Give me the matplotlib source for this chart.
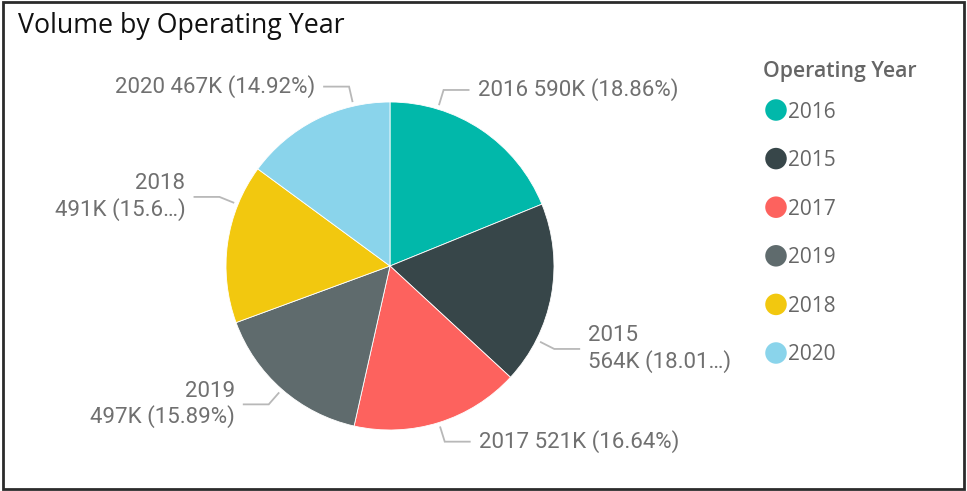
import numpy as np
import matplotlib.pyplot as plt
from matplotlib.patches import Rectangle

# data
years = ['2016', '2015', '2017', '2019', '2018', '2020']
volume_k = [590, 564, 521, 497, 491, 467]
percent = [18.86, 18.01, 16.64, 15.89, 15.68, 14.92]
colors = ['#01B8AA', '#374649', '#FD625E', '#5F6B6D', '#F2C80F', '#8AD4EB']

W, H = 967, 491
fig = plt.figure(figsize=(W / 100, H / 100), dpi=100)
ax = fig.add_axes([0, 0, 1, 1])

# pie in pixel-like coordinates
cx, cy, R = 390, H - 266, 164
wedges, _ = ax.pie(volume_k, colors=colors, startangle=90, counterclock=False,
                   center=(cx, cy), radius=R,
                   wedgeprops=dict(edgecolor='white', linewidth=0.6))
ax.set_xlim(0, W)
ax.set_ylim(0, H)
ax.set_aspect('equal')
ax.axis('off')

label_font = 'Roboto'
label_color = '#707070'
line_color = '#b8b8b8'

# label placement tweaks (angle shift from wedge middle, wrap, truncate)
shift = [17, -16.5, 0, 0, -14, -14]
wrap = [False, True, False, True, True, False]
trunc = [None, 5, None, None, 4, None]

for i, w in enumerate(wedges):
    mid = (w.theta1 + w.theta2) / 2 + shift[i]
    a = np.deg2rad(mid)
    x0, y0 = cx + 169 * np.cos(a), cy + 169 * np.sin(a)
    x1, y1 = cx + 184 * np.cos(a), cy + 184 * np.sin(a)
    side = 1 if np.cos(a) > 0 else -1
    x2 = x1 + side * 25
    ax.plot([x0, x1, x2], [y0, y1, y1], color=line_color, lw=1.3,
            solid_joinstyle='miter')

    pct_txt = f'{percent[i]:.2f}'
    if trunc[i]:
        pct_txt = pct_txt[:trunc[i]] + '…'
    else:
        pct_txt += '%'
    sep = '\n' if wrap[i] else ' '
    txt = f'{years[i]}{sep}{volume_k[i]}K ({pct_txt})'
    ax.text(x2 + side * 9, y1, txt, ha='left' if side > 0 else 'right',
            va='center', fontsize=16, color=label_color, family=label_font,
            multialignment='left' if side > 0 else 'right', linespacing=1.2)

# title
ax.text(18, H - 26, 'Volume by Operating Year', ha='left', va='center',
        fontsize=19.3, color='#111111', family='Open Sans')

# legend
ax.text(763, H - 71, 'Operating Year', ha='left', va='center', fontsize=15.3,
        color='#666666', family='Open Sans', fontweight='semibold')
for i, yr in enumerate(years):
    ly = H - (110 + i * 48.6)
    ax.scatter([776], [ly], s=240, color=colors[i], edgecolors='none')
    ax.text(788, ly - 2, yr, ha='left', va='center', fontsize=15,
            color='#666666', family='Open Sans')

# frame
ax.add_patch(Rectangle((3, H - 489), 961, 487, fill=False, lw=2,
                       edgecolor='#2b2b2b', clip_on=False))

fig.savefig('out.png', dpi=100)
